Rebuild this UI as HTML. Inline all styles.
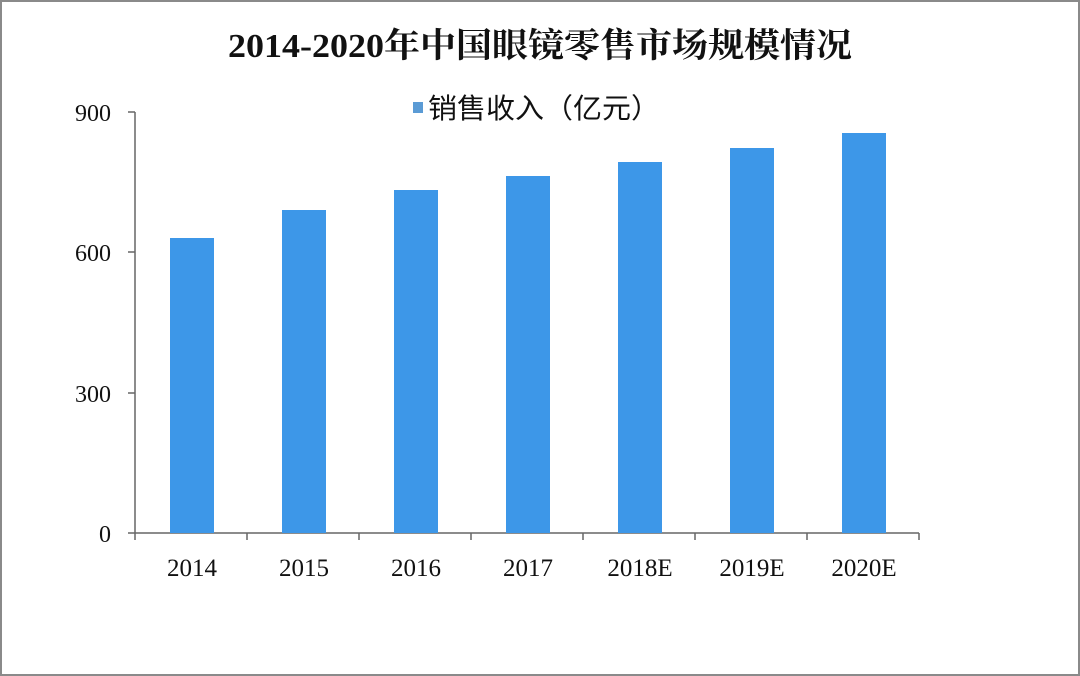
<!DOCTYPE html>
<html><head><meta charset="utf-8"><style>
html,body{margin:0;padding:0;background:#fff}
svg{display:block}
text{font-family:"Liberation Serif","Noto Serif CJK SC",serif;fill:#111}
</style></head><body>
<svg width="1080" height="676" viewBox="0 0 1080 676" xmlns="http://www.w3.org/2000/svg">
<rect x="0" y="0" width="1080" height="676" fill="#fff"/>
<rect x="1" y="1" width="1078" height="674" fill="none" stroke="#8a8a8a" stroke-width="2"/>
<text x="228" y="57" font-size="34" textLength="624" lengthAdjust="spacingAndGlyphs" font-weight="bold" style="font-family:'Liberation Serif','Noto Serif CJK SC',serif">2014-2020年中国眼镜零售市场规模情况</text>
<rect x="413" y="102" width="10" height="11" fill="#5b9bd5"/>
<text x="428" y="118" font-size="28" textLength="232" lengthAdjust="spacingAndGlyphs" style="font-family:'Liberation Sans','Noto Sans CJK SC',sans-serif">销售收入（亿元）</text>
<g stroke="#666" stroke-width="1.5" fill="none">
<line x1="135" y1="112" x2="135" y2="533"/>
<line x1="128" y1="112" x2="135" y2="112"/>
<line x1="128" y1="252" x2="135" y2="252"/>
<line x1="128" y1="393" x2="135" y2="393"/>
<line x1="128" y1="533" x2="919" y2="533"/>
<line x1="135" y1="533" x2="135" y2="540"/><line x1="247" y1="533" x2="247" y2="540"/><line x1="359" y1="533" x2="359" y2="540"/><line x1="471" y1="533" x2="471" y2="540"/><line x1="583" y1="533" x2="583" y2="540"/><line x1="695" y1="533" x2="695" y2="540"/><line x1="807" y1="533" x2="807" y2="540"/><line x1="919" y1="533" x2="919" y2="540"/>
</g>
<g font-size="24" text-anchor="end">
<text x="111" y="121">900</text><text x="111" y="261">600</text><text x="111" y="402">300</text><text x="111" y="542">0</text>
</g>
<g fill="#3d97e8">
<rect x="170" y="238" width="44" height="295"/>
<rect x="282" y="210" width="44" height="323"/>
<rect x="394" y="190" width="44" height="343"/>
<rect x="506" y="176" width="44" height="357"/>
<rect x="618" y="162" width="44" height="371"/>
<rect x="730" y="148" width="44" height="385"/>
<rect x="842" y="133" width="44" height="400"/>
</g>
<g font-size="25" text-anchor="middle">
<text x="192" y="576">2014</text><text x="304" y="576">2015</text><text x="416" y="576">2016</text><text x="528" y="576">2017</text><text x="640" y="576">2018E</text><text x="752" y="576">2019E</text><text x="864" y="576">2020E</text>
</g>
</svg>
</body></html>
